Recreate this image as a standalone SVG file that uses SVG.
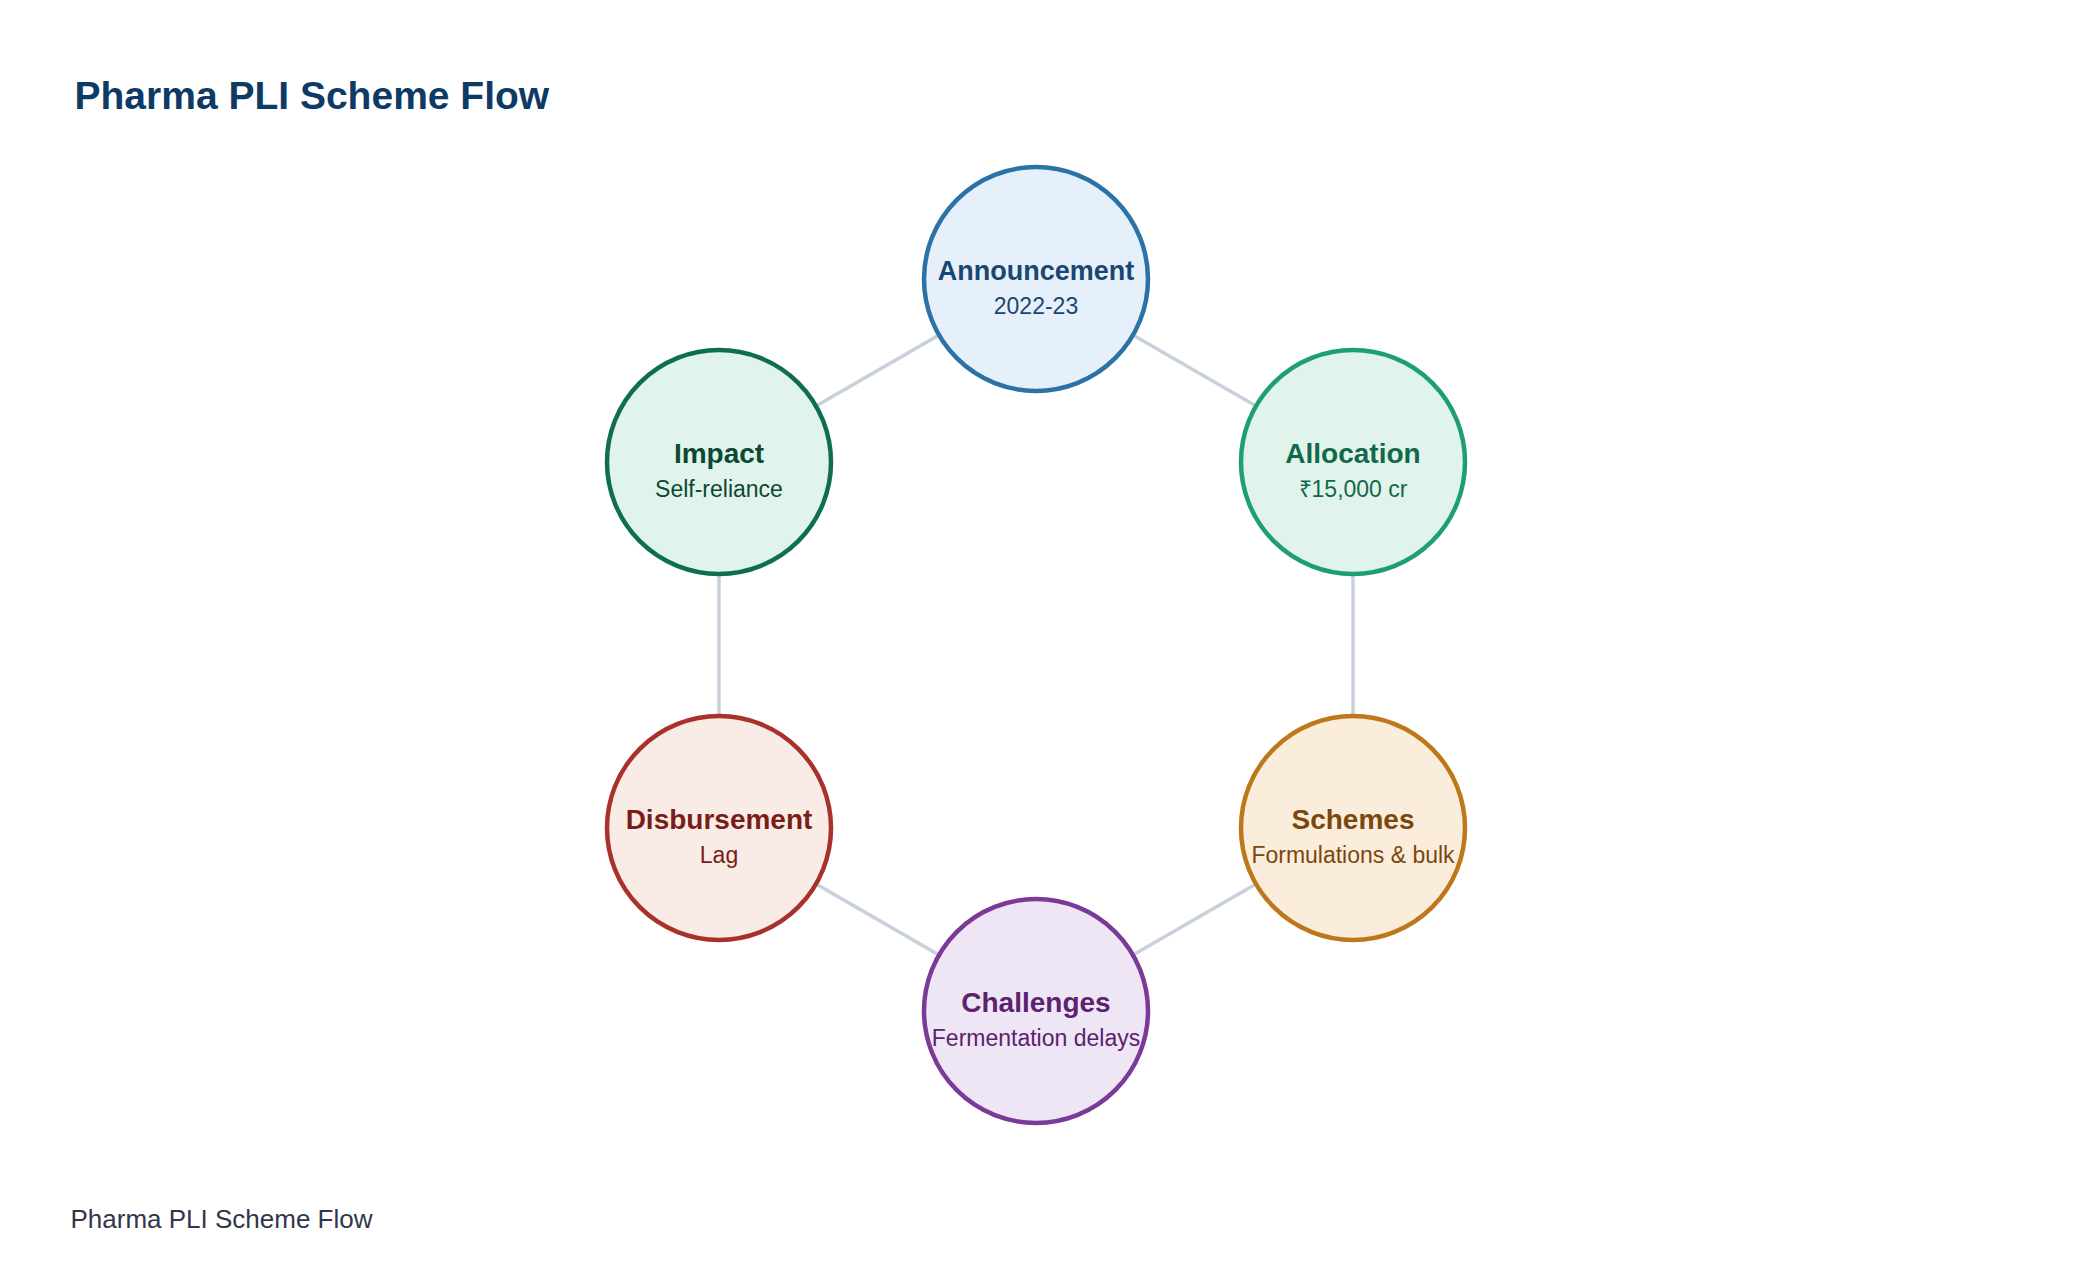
<svg xmlns="http://www.w3.org/2000/svg" width="2080" height="1284" viewBox="0 0 2080 1284">
<style>
  text { font-family: "Liberation Sans", Arial, sans-serif; text-anchor: middle; }
  .title { font-size: 39px; font-weight: bold; fill: #0E3B66; text-anchor: start; }
  .footer { font-size: 26px; fill: #33364A; text-anchor: start; }
  .edge { stroke: #C8D0DB; stroke-width: 3.5; fill: none; }
  .node { stroke-width: 4.5; }
  .lbl { font-size: 28px; font-weight: bold; }
  .lbl-fit { font-size: 27px; font-weight: bold; }
  .sub { font-size: 23px; }
</style>
<rect width="2080" height="1284" fill="#FFFFFF"/>
<text class="title" x="74.5" y="109">Pharma PLI Scheme Flow</text>
<g id="connectors">
  <line class="edge" x1="1036" y1="279" x2="1353" y2="462"/>
  <line class="edge" x1="1353" y1="462" x2="1353" y2="828"/>
  <line class="edge" x1="1353" y1="828" x2="1036" y2="1011"/>
  <line class="edge" x1="1036" y1="1011" x2="719" y2="828"/>
  <line class="edge" x1="719" y1="828" x2="719" y2="462"/>
  <line class="edge" x1="719" y1="462" x2="1036" y2="279"/>
</g>
<g id="announcement">
  <circle class="node" cx="1036" cy="279" r="112" fill="#E6F0FA" stroke="#2B73A6"/>
  <text class="lbl-fit" x="1036" y="280" fill="#1A4770">Announcement</text>
  <text class="sub" x="1036" y="314" fill="#1A4770">2022-23</text>
</g>
<g id="allocation">
  <circle class="node" cx="1353" cy="462" r="112" fill="#E1F4EC" stroke="#1E9E74"/>
  <text class="lbl" x="1353" y="463" fill="#12694A">Allocation</text>
  <text class="sub" x="1353" y="497" fill="#12694A">₹15,000 cr</text>
</g>
<g id="schemes">
  <circle class="node" cx="1353" cy="828" r="112" fill="#FAEDDB" stroke="#BE771A"/>
  <text class="lbl" x="1353" y="829" fill="#7C470E">Schemes</text>
  <text class="sub" x="1353" y="863" fill="#7C470E">Formulations &amp; bulk</text>
</g>
<g id="challenges">
  <circle class="node" cx="1036" cy="1011" r="112" fill="#EFE6F5" stroke="#7C3A98"/>
  <text class="lbl" x="1036" y="1012" fill="#5A226F">Challenges</text>
  <text class="sub" x="1036" y="1046" fill="#5A226F">Fermentation delays</text>
</g>
<g id="disbursement">
  <circle class="node" cx="719" cy="828" r="112" fill="#F9ECE6" stroke="#A8322A"/>
  <text class="lbl" x="719" y="829" fill="#7A1D18">Disbursement</text>
  <text class="sub" x="719" y="863" fill="#7A1D18">Lag</text>
</g>
<g id="impact">
  <circle class="node" cx="719" cy="462" r="112" fill="#E1F4EC" stroke="#0F6E51"/>
  <text class="lbl" x="719" y="463" fill="#0D4833">Impact</text>
  <text class="sub" x="719" y="497" fill="#0D4833">Self-reliance</text>
</g>
<text class="footer" x="70.5" y="1228">Pharma PLI Scheme Flow</text>
</svg>
